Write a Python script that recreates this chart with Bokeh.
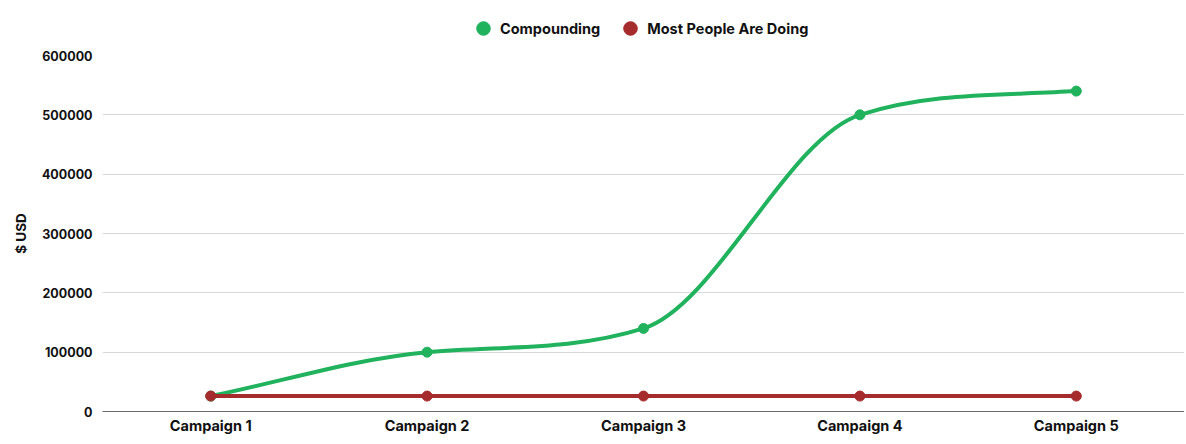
import numpy as np
from bokeh.plotting import figure
from bokeh.layouts import column
from bokeh.models import Range1d, FixedTicker, NumeralTickFormatter, Legend, LegendItem, ColumnDataSource
from bokeh.embed import file_html
from bokeh.resources import INLINE

# ---- data ----
campaigns = ["Campaign 1", "Campaign 2", "Campaign 3", "Campaign 4", "Campaign 5"]
compounding = [26000, 100000, 140000, 500000, 540000]
most_people = [26000, 26000, 26000, 26000, 26000]
y_ticks = [0, 100000, 200000, 300000, 400000, 500000, 600000]
series_names = ["Compounding", "Most People Are Doing"]

GREEN = "#20b25c"
RED = "#a62b2d"
FONT = "Inter"
TEXT = "#111111"

xs = list(range(1, len(campaigns) + 1))


def monotone_bezier(x, y):
    """Control points of a monotone cubic curve through the data points."""
    x = np.asarray(x, float)
    y = np.asarray(y, float)
    n = len(x)
    d = np.diff(y) / np.diff(x)
    m = np.zeros(n)
    m[0] = d[0]
    m[-1] = d[-1]
    for i in range(1, n - 1):
        if d[i - 1] == 0 or d[i] == 0 or np.sign(d[i - 1]) != np.sign(d[i]):
            m[i] = 0
        else:
            m[i] = (d[i - 1] + d[i]) / 2
    for i in range(n - 1):
        if d[i] == 0:
            m[i] = m[i + 1] = 0
            continue
        a = m[i] / d[i]
        b = m[i + 1] / d[i]
        s = a * a + b * b
        if s > 9:
            t = 3 / np.sqrt(s)
            m[i] = a * t * d[i]
            m[i + 1] = b * t * d[i]
    dx = np.diff(x) / 3
    return dict(
        x0=x[:-1], y0=y[:-1], x1=x[1:], y1=y[1:],
        cx0=x[:-1] + dx, cy0=y[:-1] + m[:-1] * dx,
        cx1=x[1:] - dx, cy1=y[1:] - m[1:] * dx,
    )


W = 1184

# ---- legend strip ----
lf = figure(
    width=W, height=45, x_range=Range1d(0, 1), y_range=Range1d(0, 1),
    output_backend="svg", toolbar_location=None, min_border=0,
)
lf.outline_line_color = None
lf.axis.visible = False
lf.grid.grid_line_color = None
lf.border_fill_color = "white"
# swatch renderers (their single point lies outside the visible range)
legend_renderers = [
    lf.scatter(x=[-10], y=[-10], fill_color=c, line_color=c) for c in [GREEN, RED]
]
legend = Legend(
    items=[LegendItem(label=n, renderers=[r]) for n, r in zip(series_names, legend_renderers)],
    orientation="horizontal", location=(364, 0),
    glyph_width=34, glyph_height=34, label_standoff=0, spacing=13,
    padding=0, margin=0,
    label_text_font=FONT, label_text_font_style="bold", label_text_font_size="14.5px",
    label_text_color=TEXT,
    border_line_color=None, background_fill_alpha=0,
)
lf.add_layout(legend, "center")

# ---- main chart ----
p = figure(
    width=W, height=396,
    x_range=Range1d(0.5, 5.5), y_range=Range1d(0, 600000),
    output_backend="svg", toolbar_location=None,
    min_border_left=102, min_border_right=0, min_border_top=10, min_border_bottom=30,
)
p.outline_line_color = None
p.background_fill_color = "white"
p.border_fill_color = "white"

p.xgrid.grid_line_color = None
p.ygrid.grid_line_color = "#d9d9d9"
p.ygrid.grid_line_width = 1

p.xaxis.ticker = FixedTicker(ticks=xs)
p.xaxis.major_label_overrides = {x: c for x, c in zip(xs, campaigns)}
p.xaxis.axis_line_color = "#6b6b6b"
p.xaxis.axis_line_width = 1
p.xaxis.major_tick_line_color = None
p.xaxis.minor_tick_line_color = None
p.xaxis.major_tick_out = 0
p.xaxis.major_tick_in = 0
p.xaxis.major_label_standoff = 5
p.xaxis.major_label_text_font = FONT
p.xaxis.major_label_text_font_style = "bold"
p.xaxis.major_label_text_font_size = "14.5px"
p.xaxis.major_label_text_color = TEXT

p.yaxis.ticker = FixedTicker(ticks=y_ticks)
p.yaxis.formatter = NumeralTickFormatter(format="0")
p.yaxis.axis_line_color = None
p.yaxis.major_tick_line_color = None
p.yaxis.minor_tick_line_color = None
p.yaxis.major_tick_out = 0
p.yaxis.major_tick_in = 0
p.yaxis.major_label_standoff = 10
p.yaxis.major_label_text_font = FONT
p.yaxis.major_label_text_font_style = "bold"
p.yaxis.major_label_text_font_size = "12.5px"
p.yaxis.major_label_text_color = TEXT
p.yaxis.axis_label = "$ USD"
p.yaxis.axis_label_text_font = FONT
p.yaxis.axis_label_text_font_style = "bold"
p.yaxis.axis_label_text_font_size = "13.5px"
p.yaxis.axis_label_text_color = TEXT
p.yaxis.axis_label_standoff = 10

for vals, color in [(compounding, GREEN), (most_people, RED)]:
    p.bezier(source=ColumnDataSource(monotone_bezier(xs, vals)),
             x0="x0", y0="y0", x1="x1", y1="y1",
             cx0="cx0", cy0="cy0", cx1="cx1", cy1="cy1",
             line_color=color, line_width=4, line_cap="round")
    p.scatter(xs, vals, size=10, fill_color=color, line_color=color)

layout = column(lf, p, spacing=0)
open("out.html", "w").write(file_html(layout, INLINE))
